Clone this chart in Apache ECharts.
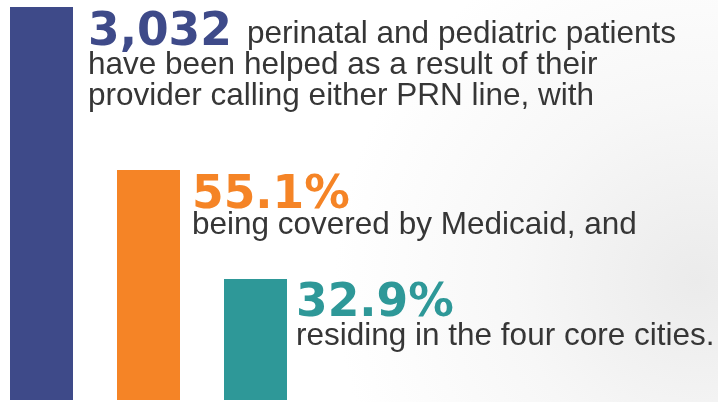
<!DOCTYPE html>
<html>
<head>
<meta charset="utf-8">
<script src="https://cdn.jsdelivr.net/npm/echarts@6/dist/echarts.min.js"></script>
<style>
  html, body { margin: 0; padding: 0; background: #fff; }
  #chart { width: 718px; height: 402px; }
</style>
</head>
<body>
<div id="chart"></div>
<script>
'use strict';

// 数据
var categories = ['Patients helped', 'Medicaid', 'Four core cities'];
var barValues = [100, 58.5, 30.8];
var highlights = ['3,032', '55.1%', '32.9%'];
var captions = [
    ['perinatal and pediatric patients', 'have been helped as a result of their', 'provider calling either PRN line, with'],
    ['being covered by Medicaid, and'],
    ['residing in the four core cities.']
];
var barColors = ['#3e4a89', '#f58426', '#2e9898'];

// 标签偏移 (相对柱子左上角)
var numOffsets = [[78, 3.5], [75, 3.5], [72, 2.5]];
var captionOffsets = [[78, 11.6], [75, 40], [72, 41.5]];
var firstLineIndent = [159, 0, 0];

function numLabel(i) {
    return {
        show: true,
        position: numOffsets[i],
        formatter: highlights[i],
        fontFamily: 'DejaVu Sans',
        fontWeight: 'bold',
        fontSize: 45.5,
        lineHeight: 46,
        color: barColors[i],
        align: 'left',
        verticalAlign: 'top'
    };
}

function captionLabel(i) {
    var text = captions[i].map(function (l, k) {
        return (k === 0 ? '{first|' : '{b|') + l + '}';
    }).join('\n');
    var bodyStyle = {
        fontFamily: 'Liberation Sans',
        fontSize: 31.5,
        lineHeight: 31,
        color: '#363636'
    };
    return {
        show: true,
        position: captionOffsets[i],
        formatter: text,
        align: 'left',
        verticalAlign: 'top',
        rich: {
            first: Object.assign({ padding: [0, 0, 0, firstLineIndent[i]] }, bodyStyle),
            b: bodyStyle
        }
    };
}

var chart = echarts.init(document.getElementById('chart'));

var option = {
    animation: false,
    backgroundColor: {
        type: 'radial',
        x: 0.97, y: 0.7, r: 0.9,
        colorStops: [
            { offset: 0, color: '#ebebeb' },
            { offset: 0.5, color: '#f7f7f7' },
            { offset: 1, color: '#ffffff' }
        ]
    },
    grid: {
        left: -12,
        top: 7,
        width: 321,
        bottom: 2,
        outerBoundsMode: 'none'
    },
    xAxis: {
        type: 'category',
        data: categories,
        show: false
    },
    yAxis: {
        type: 'value',
        min: 0,
        max: 100,
        show: false
    },
    series: [
        {
            type: 'bar',
            barWidth: 63,
            data: barValues.map(function (v, i) {
                return { value: v, itemStyle: { color: barColors[i] }, label: numLabel(i) };
            })
        },
        {
            // 透明叠加系列，只负责说明文字
            type: 'bar',
            barWidth: 63,
            barGap: '-100%',
            silent: true,
            itemStyle: { color: 'rgba(0,0,0,0)' },
            data: barValues.map(function (v, i) {
                return { value: v, label: captionLabel(i) };
            })
        }
    ]
};

chart.setOption(option);
</script>
</body>
</html>
